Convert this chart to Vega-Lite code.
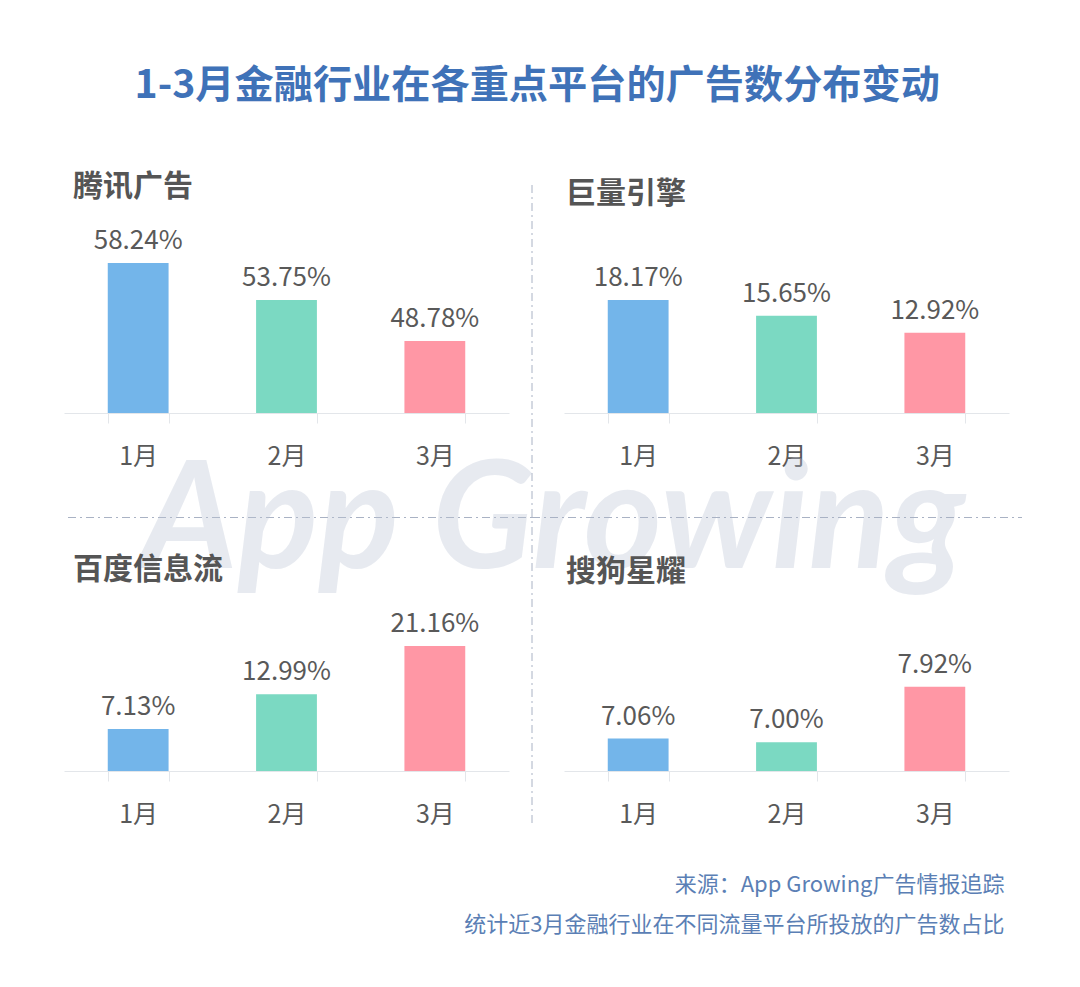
{
  "$schema": "https://vega.github.io/schema/vega-lite/v6.json",
  "background": "white",
  "padding": {"left": 64, "top": 66, "right": 20, "bottom": 20},
  "title": {
    "text": "1-3月金融行业在各重点平台的广告数分布变动",
    "anchor": "middle",
    "frame": "bounds",
    "dx": -6,
    "fontSize": 39.2,
    "fontWeight": "bold",
    "color": "#3f72b8",
    "offset": 66
  },
  "config": {
    "view": {"stroke": null},
    "font": "Noto Sans CJK SC",
    "title": {"font": "Noto Sans CJK SC", "frame": "group"},
    "axisX": {
      "title": null,
      "labelAngle": 0,
      "labelFontSize": 25,
      "labelColor": "#595959",
      "labelBaseline": "middle",
      "labelPadding": 33,
      "domainColor": "#e3e6ea",
      "tickColor": "#e3e6ea",
      "tickSize": 10,
      "tickBand": "extent"
    }
  },
  "datasets": {
    "tencent": [
      {"month": "1月", "share": 0.5824},
      {"month": "2月", "share": 0.5375},
      {"month": "3月", "share": 0.4878}
    ],
    "juliang": [
      {"month": "1月", "share": 0.1817},
      {"month": "2月", "share": 0.1565},
      {"month": "3月", "share": 0.1292}
    ],
    "baidu": [
      {"month": "1月", "share": 0.0713},
      {"month": "2月", "share": 0.1299},
      {"month": "3月", "share": 0.2116}
    ],
    "sogou": [
      {"month": "1月", "share": 0.0706},
      {"month": "2月", "share": 0.07},
      {"month": "3月", "share": 0.0792}
    ],
    "divider": [{"name": "divider"}]
  },
  "bounds": "flush",
  "columns": 2,
  "spacing": {"row": 104, "column": 55},
  "concat": [
    {
      "data": {"name": "tencent"},
      "width": 445,
      "height": 208,
      "title": {"text": "腾讯广告", "anchor": "start", "dx": 9, "offset": -12, "baseline": "middle", "fontSize": 30, "fontWeight": "bold", "color": "#555555"},
      "encoding": {
        "x": {"field": "month", "type": "nominal", "scale": {"paddingInner": 0.59, "paddingOuter": 0.295}},
        "y": {"field": "share", "type": "quantitative", "scale": {"domain": [0.4005, 0.6526], "clamp": true}, "axis": null}
      },
      "layer": [
        {
          "mark": {"type": "bar"},
          "encoding": {
            "color": {"field": "month", "type": "nominal", "legend": null, "scale": {"domain": ["1月", "2月", "3月"], "range": ["#73b5ea", "#7bd9c2", "#ff97a5"]}}
          }
        },
        {
          "mark": {"type": "text", "dy": -22, "fontSize": 26, "color": "#595959"},
          "encoding": {"text": {"field": "share", "format": ".2%"}}
        }
      ]
    },
    {
      "data": {"name": "juliang"},
      "width": 445,
      "height": 208,
      "title": {"text": "巨量引擎", "anchor": "start", "dx": 2, "offset": -19, "baseline": "middle", "fontSize": 30, "fontWeight": "bold", "color": "#555555"},
      "encoding": {
        "x": {"field": "month", "type": "nominal", "scale": {"paddingInner": 0.59, "paddingOuter": 0.295}},
        "y": {"field": "share", "type": "quantitative", "scale": {"domain": [0, 0.3344]}, "axis": null}
      },
      "layer": [
        {
          "mark": {"type": "bar"},
          "encoding": {
            "color": {"field": "month", "type": "nominal", "legend": null, "scale": {"domain": ["1月", "2月", "3月"], "range": ["#73b5ea", "#7bd9c2", "#ff97a5"]}}
          }
        },
        {
          "mark": {"type": "text", "dy": -22, "fontSize": 26, "color": "#595959"},
          "encoding": {"text": {"field": "share", "format": ".2%"}}
        }
      ]
    },
    {
      "data": {"name": "divider"},
      "width": 445,
      "height": 1,
      "title": {"text": "App Growing", "orient": "bottom", "anchor": "start", "dx": 76, "offset": -258, "baseline": "alphabetic", "font": "Lato", "fontSize": 150, "fontStyle": "italic", "fontWeight": "bold", "color": "rgba(185,195,212,0.35)", "limit": 2000},
      "layer": [
        {
          "mark": {"type": "rule", "stroke": "#a9b2c4", "strokeWidth": 1, "strokeDash": [8, 4, 2, 4]},
          "encoding": {
            "x": {"datum": 4, "type": "quantitative", "scale": {"domain": [0, 445]}, "axis": null},
            "x2": {"datum": 468}
          }
        },
        {
          "mark": {"type": "rule", "stroke": "#a9b2c4", "strokeWidth": 1, "strokeDash": [8, 4, 2, 4]},
          "encoding": {
            "x": {"datum": 468, "type": "quantitative", "scale": {"domain": [0, 445]}, "axis": null},
            "y": {"datum": -332, "type": "quantitative", "scale": {"domain": [0, 1], "reverse": true}, "axis": null},
            "y2": {"datum": 308}
          }
        }
      ]
    },
    {
      "data": {"name": "divider"},
      "width": 445,
      "height": 1,
      "mark": {"type": "rule", "stroke": "#a9b2c4", "strokeWidth": 1, "strokeDash": [8, 4, 2, 4]},
      "encoding": {
        "x": {"datum": -32, "type": "quantitative", "scale": {"domain": [0, 445]}, "axis": null},
        "x2": {"datum": 458}
      }
    },
    {
      "data": {"name": "baidu"},
      "width": 445,
      "height": 149,
      "title": {"text": "百度信息流", "anchor": "start", "dx": 9, "offset": 11, "baseline": "middle", "fontSize": 30, "fontWeight": "bold", "color": "#555555"},
      "encoding": {
        "x": {"field": "month", "type": "nominal", "scale": {"paddingInner": 0.59, "paddingOuter": 0.295}},
        "y": {"field": "share", "type": "quantitative", "scale": {"domain": [0, 0.2522]}, "axis": null}
      },
      "layer": [
        {
          "mark": {"type": "bar"},
          "encoding": {
            "color": {"field": "month", "type": "nominal", "legend": null, "scale": {"domain": ["1月", "2月", "3月"], "range": ["#73b5ea", "#7bd9c2", "#ff97a5"]}}
          }
        },
        {
          "mark": {"type": "text", "dy": -22, "fontSize": 26, "color": "#595959"},
          "encoding": {"text": {"field": "share", "format": ".2%"}}
        }
      ]
    },
    {
      "data": {"name": "sogou"},
      "width": 445,
      "height": 149,
      "title": {"text": "搜狗星耀", "anchor": "start", "dx": 2, "offset": 20, "baseline": "middle", "fontSize": 30, "fontWeight": "bold", "color": "#555555"},
      "encoding": {
        "x": {
          "field": "month",
          "type": "nominal",
          "scale": {"paddingInner": 0.59, "paddingOuter": 0.295},
          "axis": {
            "title": ["来源：App Growing广告情报追踪", "统计近3月金融行业在不同流量平台所投放的广告数占比"],
            "titleFontSize": 22,
            "titleFontWeight": "normal",
            "titleColor": "#5b7fb5",
            "titleAlign": "right",
            "titleAnchor": "end",
            "titleBaseline": "middle",
            "titleLineHeight": 40,
            "titleX": 440,
            "titleY": 113
          }
        },
        "y": {"field": "share", "type": "quantitative", "scale": {"domain": [0.0652, 0.08998], "clamp": true}, "axis": null}
      },
      "layer": [
        {
          "mark": {"type": "bar"},
          "encoding": {
            "color": {"field": "month", "type": "nominal", "legend": null, "scale": {"domain": ["1月", "2月", "3月"], "range": ["#73b5ea", "#7bd9c2", "#ff97a5"]}}
          }
        },
        {
          "mark": {"type": "text", "dy": -22, "fontSize": 26, "color": "#595959"},
          "encoding": {"text": {"field": "share", "format": ".2%"}}
        }
      ]
    }
  ]
}
